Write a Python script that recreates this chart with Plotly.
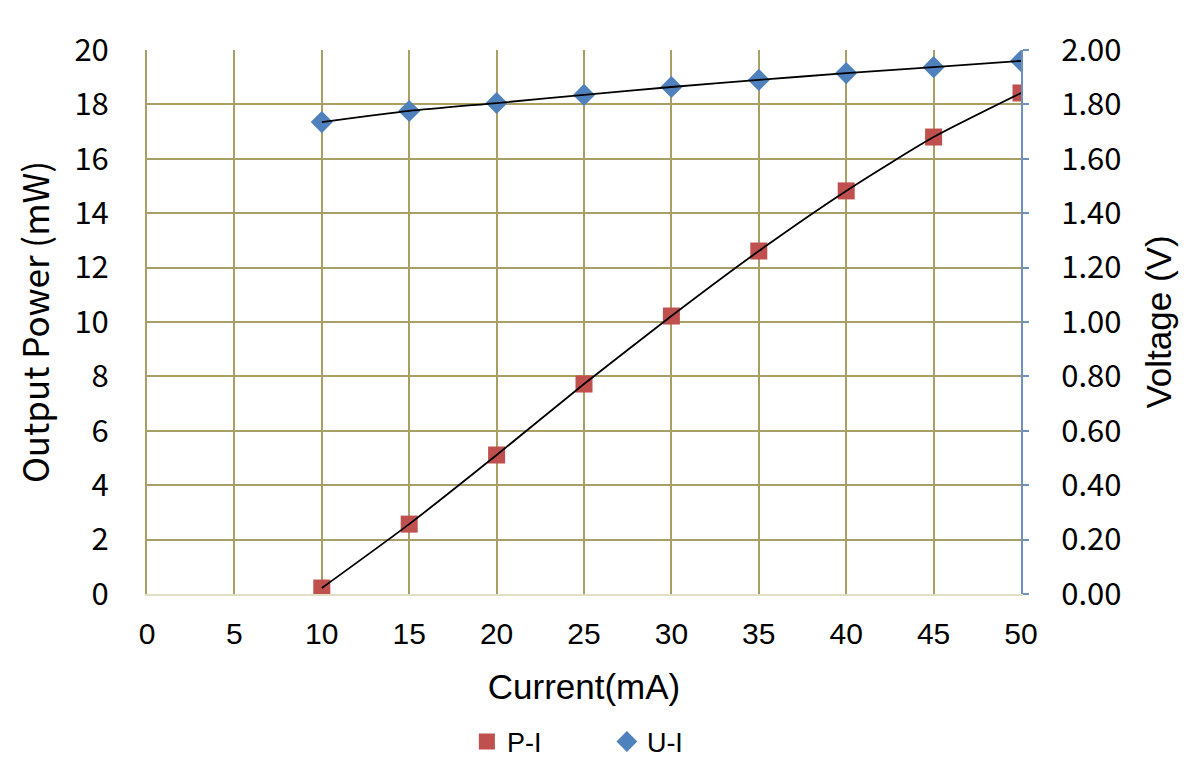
import plotly.graph_objects as go

current = [10, 15, 20, 25, 30, 35, 40, 45, 50]
power_mw = [0.22, 2.57, 5.11, 7.72, 10.22, 12.61, 14.82, 16.80, 18.42]
voltage_v = [1.735, 1.776, 1.805, 1.835, 1.864, 1.890, 1.915, 1.937, 1.960]

x_ticks = [0, 5, 10, 15, 20, 25, 30, 35, 40, 45, 50]
y_ticks = [0, 2, 4, 6, 8, 10, 12, 14, 16, 18, 20]
y2_ticks = [0, 0.2, 0.4, 0.6, 0.8, 1.0, 1.2, 1.4, 1.6, 1.8, 2.0]

ARIAL = "Liberation Sans, Arial, sans-serif"
KFONT = "Noto Sans CJK KR, Liberation Sans, sans-serif"
GRID = "#A89F66"

fig = go.Figure()

fig.add_trace(go.Scatter(x=current, y=power_mw, mode="markers", name="P-I",
                         marker=dict(symbol="square", size=17, color="#C0504D")))
fig.add_trace(go.Scatter(x=current, y=voltage_v, mode="markers", name="U-I", yaxis="y2",
                         marker=dict(symbol="diamond", size=17, color="#4F81BD")))
# fitted black curves
fig.add_trace(go.Scatter(x=current, y=power_mw, mode="lines",
                         line=dict(color="black", width=1.8, shape="spline", smoothing=0.6),
                         showlegend=False, hoverinfo="skip"))
fig.add_trace(go.Scatter(x=current, y=voltage_v, mode="lines", yaxis="y2",
                         line=dict(color="black", width=1.8, shape="spline", smoothing=0.6),
                         showlegend=False, hoverinfo="skip"))

fig.update_layout(
    width=1194, height=763,
    margin=dict(l=139, r=181, t=42, b=177, autoexpand=False),
    paper_bgcolor="white", plot_bgcolor="white",
    font=dict(family=ARIAL, color="black", size=28),
    showlegend=True,
    legend=dict(orientation="h", x=0.366, xanchor="left", y=-0.272, yanchor="middle",
                font=dict(size=27, family=ARIAL), entrywidth=95, itemwidth=30),
    xaxis=dict(range=[0, 50], tickvals=x_ticks, showgrid=True, gridcolor=GRID, gridwidth=2,
               zeroline=False, showline=True, linecolor="#E2DEC4", linewidth=2,
               ticks="outside", ticklen=12, tickcolor="rgba(0,0,0,0)", automargin=False,
               tickfont=dict(size=30, family=ARIAL),
               title=dict(text="Current(mA)", font=dict(size=35, family=ARIAL), standoff=25)),
    yaxis=dict(range=[0, 20], tickvals=y_ticks, showgrid=True, gridcolor=GRID, gridwidth=2,
               zeroline=False, showline=True, linecolor=GRID, linewidth=2,
               ticks="outside", ticklen=30, tickcolor="rgba(0,0,0,0)", automargin=False,
               tickfont=dict(size=31, family=KFONT),
               title=dict(text="Output Power (mW)", font=dict(size=35, family=KFONT), standoff=15)),
    yaxis2=dict(range=[0, 2], tickvals=y2_ticks, tickformat=".2f", overlaying="y", side="right",
                showgrid=False, zeroline=False, showline=True, linecolor="#6F8FBF", linewidth=2,
                ticks="outside", ticklen=6, tickcolor="#6F8FBF", tickwidth=2, automargin=False,
                ticklabelstandoff=26,
                tickfont=dict(size=31, family=KFONT),
                title=dict(text="Voltage (V)", font=dict(size=35, family=ARIAL), standoff=26)),
)

fig.write_html("out.html")
